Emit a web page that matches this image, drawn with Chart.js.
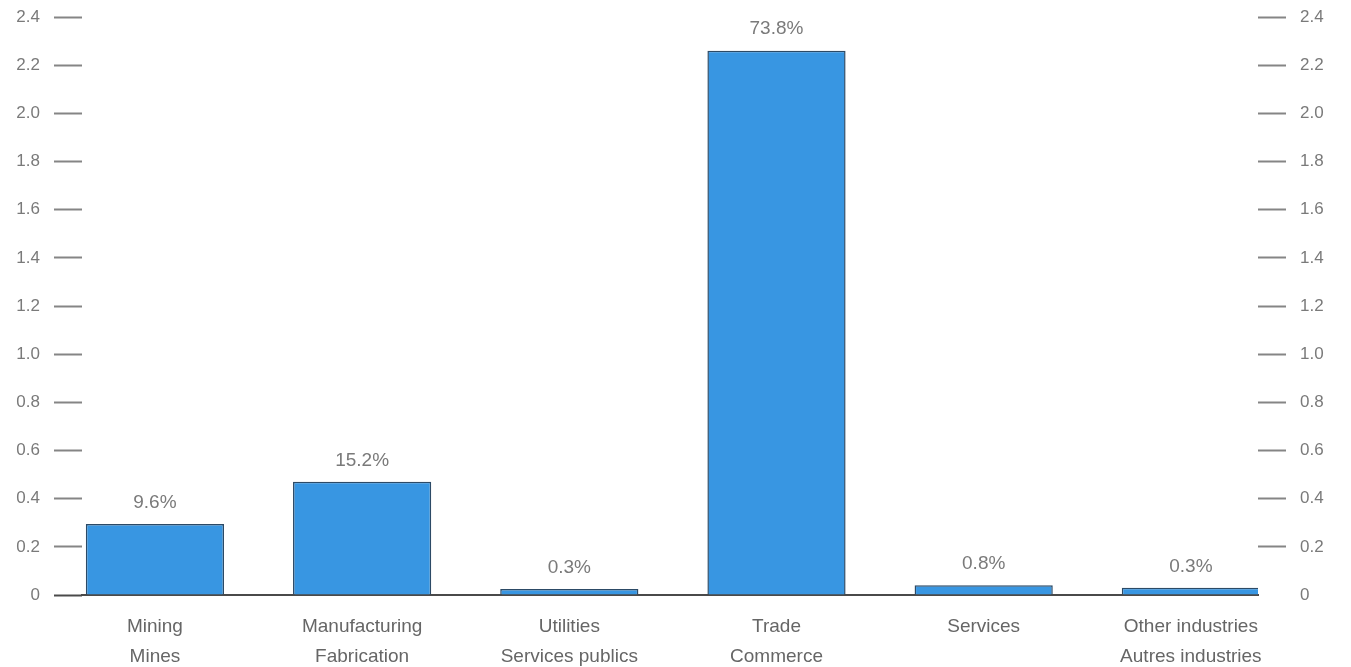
<!DOCTYPE html>
<html>
<head>
<meta charset="utf-8">
<script src="https://cdn.jsdelivr.net/npm/chart.js@4.4.1/dist/chart.umd.min.js"></script>
<style>
  body { margin: 0; background: #fff; }
  #wrap { width: 1351px; height: 667px; position: relative; }
</style>
</head>
<body>
<div id="wrap"><canvas id="industryChart"></canvas></div>
<script>
// industries (English / French)
const categories = [
  ["Mining", "Mines"],
  ["Manufacturing", "Fabrication"],
  ["Utilities", "Services publics"],
  ["Trade", "Commerce"],
  ["Services", ""],
  ["Other industries", "Autres industries"],
];
const values = [0.295, 0.47, 0.025, 2.26, 0.04, 0.03];
const shares = ["9.6%", "15.2%", "0.3%", "73.8%", "0.8%", "0.3%"];
const yTicks = [0, 0.2, 0.4, 0.6, 0.8, 1.0, 1.2, 1.4, 1.6, 1.8, 2.0, 2.2, 2.4];

const GREY = "#7a7a7a";
const FONT = "'Liberation Sans', Arial, sans-serif";

// labels above each bar
const shareLabels = {
  id: "shareLabels",
  afterDatasetsDraw(chart) {
    const ctx = chart.ctx;
    const meta = chart.getDatasetMeta(0);
    ctx.save();
    ctx.fillStyle = GREY;
    ctx.font = "19px " + FONT;
    ctx.textAlign = "center";
    ctx.textBaseline = "bottom";
    meta.data.forEach((bar, i) => {
      ctx.fillText(shares[i], bar.x, bar.y - 12);
    });
    ctx.restore();
  },
};

function yAxis(position, width, pad, zeroColor) {
  return {
    position: position,
    min: 0,
    max: 2.4,
    afterBuildTicks: (scale) => {
      scale.ticks = yTicks.map((v) => ({ value: v }));
    },
    afterFit: (scale) => {
      scale.width = width;
      scale.paddingTop = 0;
      scale.paddingBottom = 0;
    },
    border: { display: false },
    grid: {
      drawOnChartArea: false,
      drawTicks: true,
      tickLength: 28,
      tickWidth: 2,
      color: (c) => (c.tick.value === 0 ? zeroColor : "#858585"),
    },
    ticks: {
      color: GREY,
      padding: pad,
      font: { size: 17, family: FONT },
      callback: (v) => (v === 0 ? "0" : v.toFixed(1)),
    },
  };
}

new Chart(document.getElementById("industryChart"), {
  type: "bar",
  data: {
    datasets: [
      {
        data: values.map((v, i) => ({ x: i, y: v })),
        backgroundColor: "#3896e2",
        borderColor: "#2c4a66",
        borderWidth: 1.5,
        barPercentage: 0.667,
        categoryPercentage: 1,
        yAxisID: "y",
      },
    ],
  },
  options: {
    responsive: true,
    maintainAspectRatio: false,
    animation: false,
    layout: { padding: { top: 17, left: 0, right: 0, bottom: 0 } },
    plugins: {
      legend: { display: false },
      tooltip: { enabled: false },
    },
    scales: {
      x: {
        type: "linear",
        offset: false,
        min: -0.352,
        max: 5.324,
        afterBuildTicks: (scale) => {
          scale.ticks = categories.map((c, i) => ({ value: i }));
        },
        afterFit: (scale) => {
          scale.height = 72;
        },
        grid: { display: false },
        border: { display: true, color: "#4a4a4a", width: 2 },
        ticks: {
          color: "#666",
          padding: 9,
          font: { size: 19, family: FONT, lineHeight: 1.58 },
          maxRotation: 0,
          callback: (v) => categories[v],
        },
      },
      y: yAxis("left", 82, 14, "#4a4a4a"),
      y2: yAxis("right", 93, 14, "rgba(0,0,0,0)"),
    },
  },
  plugins: [shareLabels],
});
</script>
</body>
</html>
